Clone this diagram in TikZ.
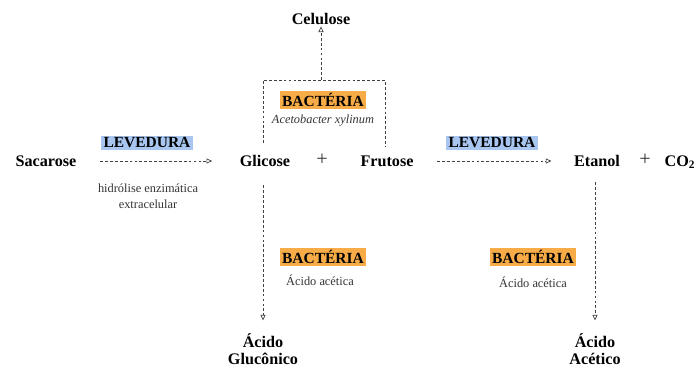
\documentclass[tikz,border=0pt]{standalone}
\usepackage{fontspec}
\setmainfont{Liberation Serif}
\usepackage{xcolor}
\usepackage{tikz}
\usetikzlibrary{arrows.meta, positioning, calc}

\definecolor{levblue}{RGB}{168,198,240}
\definecolor{bacorange}{RGB}{247,172,72}

\begin{document}
\begin{tikzpicture}[
    x=0.025cm, y=-0.025cm,
    chem/.style={font=\fontsize{11.5}{12.5}\selectfont\bfseries, align=center, inner sep=1pt},
    agentlev/.style={fill=levblue, font=\fontsize{11}{12}\selectfont\bfseries, inner sep=1.5pt},
    agentbac/.style={fill=bacorange, font=\fontsize{11}{12}\selectfont\bfseries, inner sep=1.5pt},
    note/.style={font=\fontsize{8.8}{11.5}\selectfont, align=center, text=black!80, inner sep=1pt},
    plus/.style={font=\Large, text=black!80, inner sep=1pt},
    dline/.style={dashed, dash pattern=on 2pt off 1.5pt, black!75, line width=0.5pt},
    darrow/.style={dline, -{Triangle[open, length=4pt, width=3.6pt]}}
]
\useasboundingbox (0,0) rectangle (698,370);

% main line
\node (sacarose) [chem] at (46,161) {Sacarose};
\node (glicose) [chem] at (265,161) {Glicose};
\node (plusa) [plus] at (322,160) {+};
\node (frutose) [chem] at (387,161) {Frutose};
\node (etanol) [chem] at (597,161) {Etanol};
\node (plusb) [plus] at (645,160) {+};
\node (co2) [chem] at (680,162) {CO\textsubscript{2}};

% products
\node (celulose) [chem] at (321,19) {Celulose};
\node (glucon) [chem] at (263,349) {Ácido\\Glucônico};
\node (acetico) [chem] at (595,349) {Ácido\\Acético};

% agents
\node (lev1) [agentlev] at (147,143) {LEVEDURA};
\node (hidrol) [note] at (148,196) {hidrólise enzimática\\extracelular};
\node (lev2) [agentlev] at (492,143) {LEVEDURA};
\node (bac1) [agentbac] at (323,100) {BACTÉRIA};
\node (xyl) [note, font=\fontsize{8.8}{11}\selectfont\itshape] at (323,121) {Acetobacter xylinum};
\node (bac2) [agentbac] at (323,257) {BACTÉRIA};
\node (acet1) [note] at (320,280) {Ácido acética};
\node (bac3) [agentbac] at (533,257) {BACTÉRIA};
\node (acet2) [note] at (533,282) {Ácido acética};

% corners of the bracket
\coordinate (brl) at (263,143);
\coordinate (brtl) at (263,80);
\coordinate (brtr) at (385,80);
\coordinate (brr) at (385,147);
\coordinate (brtop) at (321,80);

\draw[darrow] ($(sacarose.east)+(22,0)$) -- ($(glicose.west)+(-26,0)$);
\draw[darrow] ($(frutose.east)+(22,0)$) -- ($(etanol.west)+(-21,0)$);
\draw[dline] (brl) -- (brtl) -- (brtr) -- (brr);
\draw[darrow] (brtop) -- (celulose.south);
\draw[darrow] ($(glicose.south)+(-2,17)$) -- ($(glucon.north)+(0,-11)$);
\draw[darrow] ($(etanol.south -| acetico.north)+(0,14)$) -- ($(acetico.north)+(0,-11)$);
\end{tikzpicture}
\end{document}
